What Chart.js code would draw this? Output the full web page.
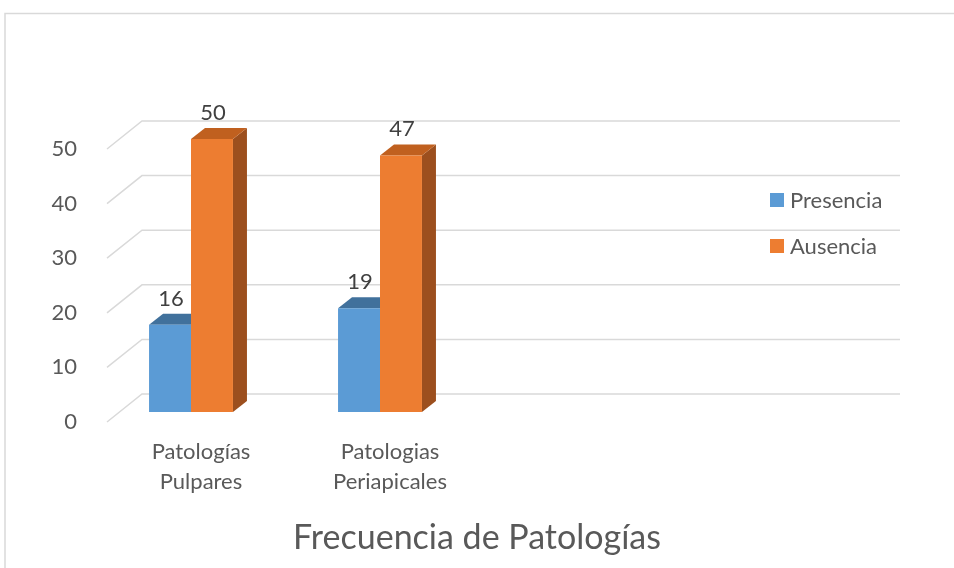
<!DOCTYPE html>
<html>
<head>
<meta charset="utf-8">
<script src="https://cdn.jsdelivr.net/npm/chart.js@4.4.1/dist/chart.umd.min.js"></script>
<style>
  html, body { margin: 0; padding: 0; background: #fff; }
  #wrap { width: 954px; height: 568px; position: relative; }
</style>
</head>
<body>
<div id="wrap"><canvas id="myChart" width="954" height="568"></canvas></div>
<script>
// data
const categories = [['Patologías', 'Pulpares'], ['Patologias', 'Periapicales'], '', ''];
const seriesNames = ['Presencia', 'Ausencia'];
const presencia = [16, 19, null, null];
const ausencia = [50, 47, null, null];
const yTicks = [0, 10, 20, 30, 40, 50];

const FONT = 'Lato, "Open Sans", sans-serif';
const frontColors = ['#5b9bd5', '#ed7d31'];
const topColors = ['#41719c', '#c0601f'];
const sideColors = ['#3a6690', '#9c4f1e'];

// bar depth offset, and offsets from bar plane to back wall / front edge
const DX = 14, DY = -11;
const WALL_DX = 22.5, WALL_DY = -18;
const FRONT_DX = -12.5, FRONT_DY = 10;

const deco = {
  id: 'deco',
  beforeDraw(chart) {
    const ctx = chart.ctx;
    ctx.save();
    ctx.strokeStyle = '#d9d9d9';
    ctx.lineWidth = 1.5;
    ctx.strokeRect(5, 13.5, 1000, 600);
    ctx.restore();
  },
  beforeDatasetsDraw(chart) {
    const ctx = chart.ctx;
    const area = chart.chartArea;
    const y = chart.scales.y;
    const wallLeft = area.left + 23 + WALL_DX;
    const wallRight = 900;
    ctx.save();
    ctx.strokeStyle = '#d9d9d9';
    ctx.lineWidth = 1.5;
    yTicks.forEach(v => {
      const yb = y.getPixelForValue(v) + WALL_DY;
      ctx.beginPath();
      ctx.moveTo(wallRight, yb);
      ctx.lineTo(wallLeft, yb);
      ctx.lineTo(area.left + 23 + FRONT_DX, y.getPixelForValue(v) + FRONT_DY);
      ctx.stroke();
    });
    // 3D top and side faces of bars (front faces drawn by Chart.js on top)
    chart.data.datasets.forEach((ds, di) => {
      const meta = chart.getDatasetMeta(di);
      meta.data.forEach((bar, i) => {
        if (ds.data[i] == null) return;
        const p = bar.getProps(['x', 'y', 'base', 'width'], true);
        const l = p.x - p.width / 2, r = p.x + p.width / 2;
        ctx.fillStyle = sideColors[di];
        ctx.beginPath();
        ctx.moveTo(r, p.y);
        ctx.lineTo(r + DX, p.y + DY);
        ctx.lineTo(r + DX, p.base + DY);
        ctx.lineTo(r, p.base);
        ctx.closePath();
        ctx.fill();
        ctx.fillStyle = topColors[di];
        ctx.beginPath();
        ctx.moveTo(l, p.y);
        ctx.lineTo(l + DX, p.y + DY);
        ctx.lineTo(r + DX, p.y + DY);
        ctx.lineTo(r, p.y);
        ctx.closePath();
        ctx.fill();
      });
    });
    ctx.restore();
  },
  afterDatasetsDraw(chart) {
    const ctx = chart.ctx;
    ctx.save();
    ctx.font = '22px ' + FONT;
    ctx.fillStyle = '#404040';
    ctx.textAlign = 'center';
    ctx.textBaseline = 'middle';
    chart.data.datasets.forEach((ds, di) => {
      chart.getDatasetMeta(di).data.forEach((bar, i) => {
        if (ds.data[i] == null) return;
        ctx.fillText(String(ds.data[i]), bar.x + 1, bar.y - 26);
      });
    });
    // legend
    ctx.textAlign = 'left';
    chart.data.datasets.forEach((ds, di) => {
      const cy = 200 + di * 46;
      ctx.fillStyle = frontColors[di];
      ctx.fillRect(770, cy - 7, 14, 14);
      ctx.fillStyle = '#595959';
      ctx.fillText(ds.label, 790, cy + 1);
    });
    ctx.restore();
  }
};

new Chart(document.getElementById('myChart'), {
  type: 'bar',
  data: {
    labels: categories,
    datasets: [
      { label: seriesNames[0], data: presencia, backgroundColor: frontColors[0] },
      { label: seriesNames[1], data: ausencia, backgroundColor: frontColors[1] }
    ]
  },
  options: {
    responsive: false,
    animation: false,
    layout: { padding: { top: 139, right: 0, left: 0, bottom: 9.6 } },
    datasets: { bar: { categoryPercentage: 0.444, barPercentage: 1.0, clip: false } },
    plugins: {
      legend: { display: false },
      tooltip: { enabled: false },
      title: {
        display: true,
        position: 'bottom',
        text: 'Frecuencia de Patologías',
        color: '#595959',
        font: { family: FONT, size: 34, weight: 'normal', lineHeight: 1.2 },
        padding: 0
      }
    },
    scales: {
      x: {
        grid: { display: false },
        border: { display: false },
        ticks: {
          color: '#595959',
          font: { family: FONT, size: 22, lineHeight: 1.36 },
          padding: 17,
          labelOffset: 10,
          maxRotation: 0,
          autoSkip: false
        },
        afterFit(scale) { scale.height = 105.6; }
      },
      y: {
        min: 0,
        max: 50,
        grid: { display: false },
        border: { display: false },
        ticks: {
          stepSize: 10,
          color: '#595959',
          font: { family: FONT, size: 22 },
          padding: 11.5,
          labelOffset: 10
        },
        afterFit(scale) { scale.width = 96.5; }
      },
      // empty right-hand space where the legend sits
      side: {
        position: 'right',
        grid: { display: false },
        border: { display: false },
        ticks: { display: false },
        afterFit(scale) { scale.width = 101.5; }
      }
    }
  },
  plugins: [deco]
});
</script>
</body>
</html>
